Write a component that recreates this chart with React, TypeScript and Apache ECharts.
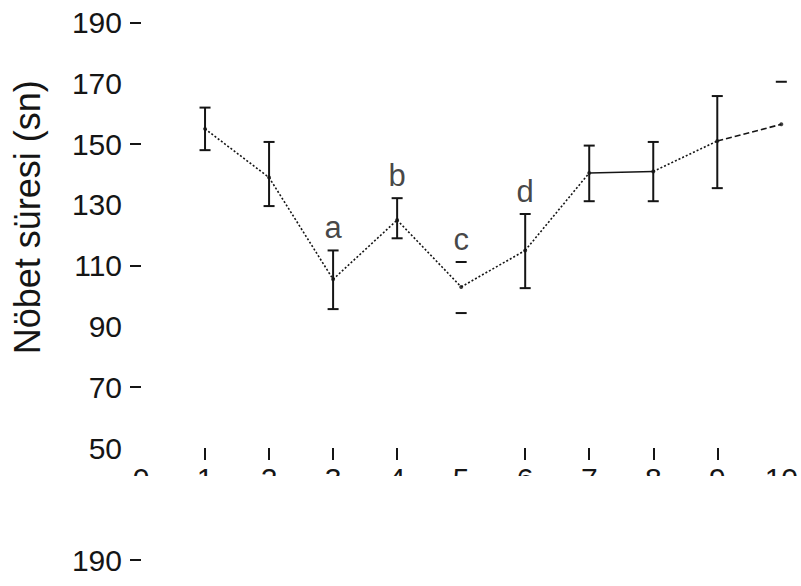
import React, { useEffect, useRef } from 'react';
import * as echarts from 'echarts';

const xValues = [1, 2, 3, 4, 5, 6, 7, 8, 9, 10];
const means = [155, 139, 105.5, 125, 103, 115, 140.5, 141, 151, 156.5];
const upper = [162, 150.7, 115, 132.2, 111.2, 127, 149.5, 150.7, 165.8, 170.5];
const lower: (number | null)[] = [148, 129.6, 95.7, 119, 94.4, 102.6, 131.2, 131.2, 135.5, null];
const stemShown = [1, 1, 1, 1, 0, 1, 1, 1, 1, 0];
const letters = ['', '', 'a', 'b', 'c', 'd', '', '', '', ''];
const segmentStyles = ['dotted', 'dotted', 'dotted', 'dotted', 'dotted', 'dotted', 'solid', 'dotted', 'dashed'];
const yTickValues = [70, 110, 150, 190];
const xTickValues = [1, 2, 3, 4, 6, 7, 8, 9];
const lowerPanelLabels = [190];
const yAxisName = 'Nöbet süresi (sn)';

const INK = '#151515';
const REG = "'Liberation Sans', Arial, sans-serif";

function dashFor(s: string): any {
  if (s === 'solid') return 'solid';
  if (s === 'dashed') return [6, 3];
  return [2, 2];
}

export default function App() {
  const ref = useRef<HTMLDivElement>(null);
  useEffect(() => {
    document.body.style.margin = '0';
    if (!ref.current) return;
    const chart = echarts.init(ref.current, null, { renderer: 'svg' });

    const segSeries = segmentStyles.map((s, i) => ({
      type: 'line',
      xAxisIndex: 0,
      yAxisIndex: 0,
      data: [[xValues[i], means[i]], [xValues[i + 1], means[i + 1]]],
      symbol: 'none',
      lineStyle: { color: INK, width: 1.6, type: dashFor(s) },
      silent: true,
    }));

    const labelStyle = { fontFamily: REG, fontSize: 30, color: INK };

    const option: any = {
      animation: false,
      grid: [
        { left: 141, right: 15, top: 22.5, bottom: 138 },
        { left: 141, right: 15, top: 540, height: 20 },
      ],
      xAxis: [
        {
          type: 'value',
          gridIndex: 0,
          min: 0,
          max: 10,
          interval: 1,
          axisLine: { show: false },
          splitLine: { show: false },
          axisTick: { show: true, customValues: xTickValues, length: 12, lineStyle: { color: INK, width: 2 } },
          axisLabel: { ...labelStyle, margin: 15, showMaxLabel: true, showMinLabel: true },
        },
        { type: 'value', gridIndex: 1, min: 0, max: 10, show: false },
      ],
      yAxis: [
        {
          type: 'value',
          gridIndex: 0,
          min: 50,
          max: 190,
          interval: 20,
          name: yAxisName,
          nameLocation: 'middle',
          nameGap: 96,
          nameTextStyle: { fontFamily: REG, fontSize: 36, color: INK, padding: [0, 0, 0, 36] },
          axisLine: { show: false },
          splitLine: { show: false },
          axisTick: { show: true, customValues: yTickValues, length: 11, lineStyle: { color: INK, width: 2 } },
          axisLabel: { ...labelStyle, margin: 19 },
        },
        {
          type: 'value',
          gridIndex: 1,
          min: 190,
          max: 210,
          interval: 20,
          axisLine: { show: false },
          splitLine: { show: false },
          axisTick: { show: true, customValues: lowerPanelLabels, length: 11, lineStyle: { color: INK, width: 2 } },
          axisLabel: { ...labelStyle, margin: 19, customValues: lowerPanelLabels },
        },
      ],
      series: [
        ...segSeries,
        {
          type: 'scatter',
          xAxisIndex: 0,
          yAxisIndex: 0,
          data: xValues.map((x, i) => [x, means[i]]),
          symbol: 'circle',
          symbolSize: 4,
          itemStyle: { color: INK },
        },
        {
          type: 'custom',
          xAxisIndex: 0,
          yAxisIndex: 0,
          data: xValues.map((x, i) => [x, lower[i] == null ? '-' : lower[i], upper[i], stemShown[i]]),
          renderItem: (params: any, api: any) => {
            const x = api.value(0);
            const lo = api.value(1);
            const hi = api.value(2);
            const stem = api.value(3);
            const cap = 5.5;
            const pHi = api.coord([x, hi]);
            const st = { stroke: INK, lineWidth: 2 };
            const children: any[] = [
              { type: 'line', shape: { x1: pHi[0] - cap, y1: pHi[1], x2: pHi[0] + cap, y2: pHi[1] }, style: st },
            ];
            if (lo !== null && lo !== undefined && !isNaN(lo)) {
              const pLo = api.coord([x, lo]);
              children.push({ type: 'line', shape: { x1: pLo[0] - cap, y1: pLo[1], x2: pLo[0] + cap, y2: pLo[1] }, style: st });
              if (stem) {
                children.push({ type: 'line', shape: { x1: pHi[0], y1: pHi[1], x2: pLo[0], y2: pLo[1] }, style: st });
              }
            }
            return { type: 'group', children };
          },
        },
        {
          type: 'scatter',
          xAxisIndex: 0,
          yAxisIndex: 0,
          symbolSize: 0,
          data: xValues
            .map((x, i) => ({ value: [x, upper[i]], name: letters[i] }))
            .filter((d) => d.name !== ''),
          label: {
            show: true,
            position: 'top',
            distance: 7,
            formatter: (p: any) => p.name,
            fontFamily: REG,
            fontSize: 31,
            color: INK,
          },
        },
      ],
      graphic: [
        {
          type: 'rect',
          left: 0,
          top: 476,
          z: 100,
          shape: { width: 801, height: 60 },
          style: { fill: '#ffffff' },
        },
      ],
    };
    chart.setOption(option);
    return () => chart.dispose();
  }, []);
  return <div ref={ref} style={{ width: 801, height: 586 }} />;
}
